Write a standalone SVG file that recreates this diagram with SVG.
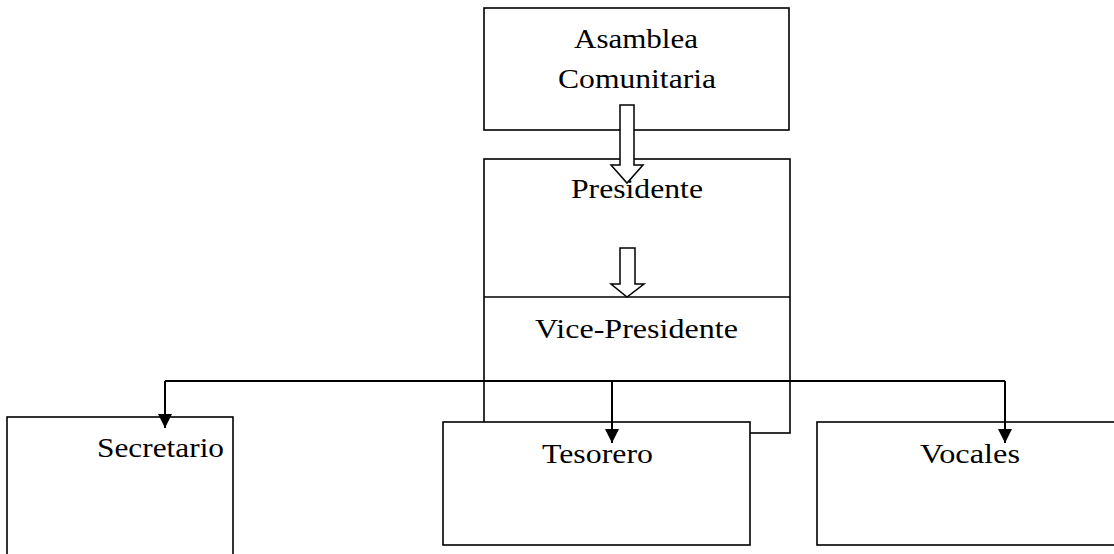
<svg xmlns="http://www.w3.org/2000/svg" width="1114" height="554" viewBox="0 0 1114 554">
  <style>
    .box { fill: #ffffff; stroke: #000000; stroke-width: 1.6; }
    .line { fill: none; stroke: #000000; stroke-width: 1.6; }
    .conn { fill: none; stroke: #000000; stroke-width: 2; }
    .blk { fill: #ffffff; stroke: #000000; stroke-width: 1.5; stroke-linejoin: miter; }
    .lbl { font-family: "Liberation Serif", "Times New Roman", serif; font-size: 27px; fill: #000000; }
  </style>
  <defs>
    <marker id="ah" markerUnits="userSpaceOnUse" markerWidth="15" markerHeight="14" refX="14" refY="7" orient="auto">
      <path d="M0,0 L14,7 L0,14 z" fill="#000000"/>
    </marker>
  </defs>

  <g id="presidente">
    <rect class="box" x="484" y="159" width="306" height="274"/>
    <text class="lbl" x="571" y="198" textLength="132" lengthAdjust="spacingAndGlyphs">Presidente</text>
  </g>

  <g id="vicepresidente">
    <line class="line" x1="484" y1="297" x2="790" y2="297"/>
    <text class="lbl" x="535" y="338" textLength="203" lengthAdjust="spacingAndGlyphs">Vice-Presidente</text>
  </g>

  <g id="asamblea">
    <rect class="box" x="484" y="8" width="305" height="122"/>
    <text class="lbl" x="574" y="48" textLength="124" lengthAdjust="spacingAndGlyphs">Asamblea</text>
    <text class="lbl" x="558" y="88" textLength="158" lengthAdjust="spacingAndGlyphs">Comunitaria</text>
  </g>

  <g id="secretario">
    <rect class="box" x="7" y="417" width="226" height="150"/>
    <text class="lbl" x="97" y="457" textLength="127" lengthAdjust="spacingAndGlyphs">Secretario</text>
  </g>

  <g id="tesorero">
    <rect class="box" x="443" y="422" width="307" height="123"/>
    <text class="lbl" x="542" y="463" textLength="111" lengthAdjust="spacingAndGlyphs">Tesorero</text>
  </g>

  <g id="vocales">
    <rect class="box" x="817" y="422" width="310" height="123"/>
    <text class="lbl" x="920" y="463" textLength="100" lengthAdjust="spacingAndGlyphs">Vocales</text>
  </g>

  <g id="connectors">
    <path class="blk" d="M620,105 L634,105 L634,165 L643,165 L627,183 L611,165 L620,165 Z"/>
    <path class="blk" d="M620,248 L635,248 L635,284 L644,284 L627,297 L611,284 L620,284 Z"/>
    <line class="conn" x1="165" y1="381" x2="1005" y2="381"/>
    <path class="conn" d="M165,381 L165,428" marker-end="url(#ah)"/>
    <path class="conn" d="M612,381 L612,443" marker-end="url(#ah)"/>
    <path class="conn" d="M1005,381 L1005,443" marker-end="url(#ah)"/>
  </g>
</svg>
